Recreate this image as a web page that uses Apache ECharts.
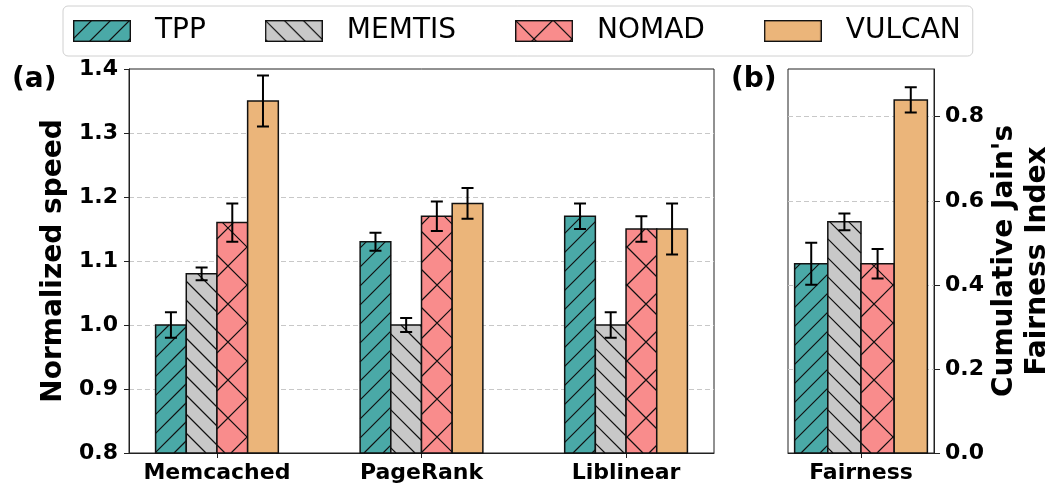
<!DOCTYPE html>
<html>
<head>
<meta charset="utf-8">
<script src="https://cdn.jsdelivr.net/npm/echarts@6/dist/echarts.min.js"></script>
<style>
  html, body { margin: 0; padding: 0; background: #fff; }
  #chart { width: 1047px; height: 487px; }
</style>
</head>
<body>
<div id="chart"></div>
<script>
// ---- data -----------------------------------------------------------------
const categories = ['Memcached', 'PageRank', 'Liblinear'];
const methods = ['TPP', 'MEMTIS', 'NOMAD', 'VULCAN'];

// normalized speed (mean) and error per workload
const tppSpeed = [1.00, 1.13, 1.17];
const memtisSpeed = [1.08, 1.00, 1.00];
const nomadSpeed = [1.16, 1.17, 1.15];
const vulcanSpeed = [1.35, 1.19, 1.15];
const tppSpeedErr = [0.02, 0.014, 0.02];
const memtisSpeedErr = [0.01, 0.011, 0.02];
const nomadSpeedErr = [0.03, 0.023, 0.02];
const vulcanSpeedErr = [0.04, 0.024, 0.04];

// cumulative Jain's fairness index, one value per method
const fairnessCategory = ['Fairness'];
const fairnessMean = [0.45, 0.55, 0.45, 0.84];
const fairnessErr = [0.05, 0.02, 0.035, 0.03];

const speedTicks = [0.8, 0.9, 1.0, 1.1, 1.2, 1.3, 1.4];
const fairnessTicks = [0.0, 0.2, 0.4, 0.6, 0.8];

// ---- styling ----------------------------------------------------------------
const FONT = 'DejaVu Sans';
const colors = ['#4aa9a7', '#c8c8c8', '#f98c8c', '#ebb57a'];
const hatches = ['ne', 'nw', 'x', null];
const HATCH_DENSE = 19;   // spacing for single-direction hatches
const HATCH_CROSS = 38;   // spacing for the cross hatch

// diagonal line segments clipped to a rectangle (pixel space)
function hatchSegments(x0, y0, w, h, dir, s) {
  const segs = [];
  const x1 = x0 + w, y1 = y0 + h;
  if (dir === 'ne') {            // lines x + y = c
    for (let c = Math.ceil((x0 + y0) / s) * s; c <= x1 + y1; c += s) {
      const xa = Math.max(x0, c - y1), xb = Math.min(x1, c - y0);
      if (xb - xa > 0.3) segs.push([xa, c - xa, xb, c - xb]);
    }
  } else {                       // lines x - y = c
    for (let c = Math.ceil((x0 - y1) / s) * s; c <= x1 - y0; c += s) {
      const xa = Math.max(x0, c + y0), xb = Math.min(x1, c + y1);
      if (xb - xa > 0.3) segs.push([xa, xa - c, xb, xb - c]);
    }
  }
  return segs;
}

function hatchPathData(x0, y0, w, h, kind) {
  if (!kind) return '';
  let segs;
  if (kind === 'x') {
    segs = hatchSegments(x0, y0, w, h, 'ne', HATCH_CROSS)
      .concat(hatchSegments(x0, y0, w, h, 'nw', HATCH_CROSS));
  } else {
    segs = hatchSegments(x0, y0, w, h, kind, HATCH_DENSE);
  }
  return segs.map(s => 'M' + s[0] + ' ' + s[1] + 'L' + s[2] + ' ' + s[3]).join('');
}

// legend swatch drawn on a small canvas
function swatch(color, kind) {
  const c = document.createElement('canvas');
  c.width = 58; c.height = 22;
  const ctx = c.getContext('2d');
  ctx.fillStyle = color;
  ctx.fillRect(0, 0, 58, 22);
  if (kind) {
    const segs = kind === 'x'
      ? hatchSegments(0, 0, 58, 22, 'ne', HATCH_CROSS).concat(hatchSegments(0, 0, 58, 22, 'nw', HATCH_CROSS))
      : hatchSegments(0, 0, 58, 22, kind, HATCH_DENSE);
    ctx.strokeStyle = '#111';
    ctx.lineWidth = 1.2;
    ctx.beginPath();
    segs.forEach(s => { ctx.moveTo(s[0], s[1]); ctx.lineTo(s[2], s[3]); });
    ctx.stroke();
  }
  ctx.strokeStyle = '#111';
  ctx.lineWidth = 1.4;
  ctx.strokeRect(0.7, 0.7, 56.6, 20.6);
  return 'image://' + c.toDataURL();
}

// bar + hatch + error bar for one method
function barRenderer(slot, barW, baseValue) {
  return function (params, api) {
    const cat = api.value(0), v = api.value(1), e = api.value(2);
    const xc = cat + (slot - 1.5) * barW;
    const pTL = api.coord([xc - barW / 2, v]);
    const pBR = api.coord([xc + barW / 2, baseValue]);
    const x0 = pTL[0], y0 = pTL[1];
    const w = pBR[0] - pTL[0], h = pBR[1] - pTL[1];
    const top = api.coord([xc, v + e]);
    const bot = api.coord([xc, v - e]);
    const cx = top[0], cap = 6;
    const children = [
      { type: 'rect', shape: { x: x0, y: y0, width: w, height: h },
        style: { fill: colors[slot], stroke: null } }
    ];
    const hp = hatchPathData(x0, y0, w, h, hatches[slot]);
    if (hp) {
      children.push({ type: 'path', shape: { pathData: hp },
        style: { fill: null, stroke: '#111', lineWidth: 1.2 } });
    }
    children.push({ type: 'rect', shape: { x: x0, y: y0, width: w, height: h },
      style: { fill: null, stroke: '#111', lineWidth: 1.5 } });
    children.push({ type: 'path',
      shape: { pathData: 'M' + cx + ' ' + top[1] + 'L' + cx + ' ' + bot[1] +
        'M' + (cx - cap) + ' ' + top[1] + 'L' + (cx + cap) + ' ' + top[1] +
        'M' + (cx - cap) + ' ' + bot[1] + 'L' + (cx + cap) + ' ' + bot[1] },
      style: { fill: null, stroke: '#000', lineWidth: 2 } });
    return { type: 'group', children: children };
  };
}

const speedMeans = [tppSpeed, memtisSpeed, nomadSpeed, vulcanSpeed];
const speedErrs = [tppSpeedErr, memtisSpeedErr, nomadSpeedErr, vulcanSpeedErr];

const series = [];
methods.forEach((m, k) => {
  series.push({
    name: m, type: 'custom', xAxisIndex: 0, yAxisIndex: 0,
    renderItem: barRenderer(k, 0.15, 0.8),
    encode: { x: 0, y: 1 },
    data: categories.map((c, i) => [i, speedMeans[k][i], speedErrs[k][i]])
  });
});
methods.forEach((m, k) => {
  series.push({
    name: m, type: 'custom', xAxisIndex: 1, yAxisIndex: 1,
    renderItem: barRenderer(k, 0.2, 0),
    encode: { x: 0, y: 1 },
    data: [[0, fairnessMean[k], fairnessErr[k]]]
  });
});

const tickLabel = { fontFamily: FONT, fontSize: 22, fontWeight: 'bold', color: '#000' };
const splitDash = { show: true, lineStyle: { color: '#c8c8c8', type: [5, 3], width: 1 } };
const frameLine = { show: true, onZero: false, lineStyle: { color: '#222' } };

const option = {
  animation: false,
  backgroundColor: '#fff',
  textStyle: { fontFamily: FONT },
  legend: {
    left: 63, top: 6,
    padding: [11, 12, 11, 10],
    itemWidth: 58, itemHeight: 22, itemGap: 59,
    selectedMode: false,
    borderColor: '#d0d0d0', borderWidth: 1, borderRadius: 5,
    backgroundColor: '#fff',
    textStyle: { fontFamily: FONT, fontSize: 28, color: '#000', padding: [0, 0, 0, 19] },
    data: methods.map((m, k) => ({ name: m, icon: swatch(colors[k], hatches[k]) }))
  },
  grid: [
    { left: 129, top: 69, width: 585, height: 384, show: true, borderColor: '#222', borderWidth: 1,
      containLabel: false, outerBoundsMode: 'none' },
    { left: 788, top: 69, width: 146, height: 384, show: true, borderColor: '#222', borderWidth: 1,
      containLabel: false, outerBoundsMode: 'none' }
  ],
  xAxis: [
    {
      type: 'value', gridIndex: 0, min: -0.43, max: 2.43,
      axisLine: frameLine,
      axisTick: { show: true, length: 5, customValues: categories.map((c, i) => i), lineStyle: { color: '#222' } },
      axisLabel: { ...tickLabel, margin: 9, customValues: categories.map((c, i) => i),
        formatter: v => categories[Math.round(v)] },
      splitLine: { show: false }
    },
    {
      type: 'value', gridIndex: 1, min: -0.44, max: 0.44,
      axisLine: frameLine,
      axisTick: { show: true, length: 5, customValues: [0], lineStyle: { color: '#222' } },
      axisLabel: { ...tickLabel, margin: 9, customValues: [0],
        formatter: () => fairnessCategory[0] },
      splitLine: { show: false }
    }
  ],
  yAxis: [
    {
      type: 'value', gridIndex: 0,
      min: speedTicks[0], max: speedTicks[speedTicks.length - 1], interval: 0.1,
      name: 'Normalized speed', nameLocation: 'middle', nameGap: 51,
      nameTextStyle: { fontFamily: FONT, fontSize: 28, fontWeight: 'bold', color: '#000' },
      axisLine: frameLine,
      axisTick: { show: true, length: 5, lineStyle: { color: '#222' } },
      axisLabel: { ...tickLabel, margin: 11, formatter: v => v.toFixed(1) },
      splitLine: { ...splitDash, showMinLine: false, showMaxLine: false }
    },
    {
      type: 'value', gridIndex: 1, position: 'right',
      min: 0, max: 0.9135,
      name: "Cumulative Jain's\nFairness Index", nameLocation: 'middle', nameGap: 53,
      nameTextStyle: { fontFamily: FONT, fontSize: 28, fontWeight: 'bold', color: '#000', lineHeight: 33 },
      axisLine: frameLine,
      axisTick: { show: true, length: 6, customValues: fairnessTicks, lineStyle: { color: '#222' } },
      axisLabel: { ...tickLabel, margin: 11, customValues: fairnessTicks, formatter: v => v.toFixed(1) },
      splitLine: { ...splitDash, showMinLine: false }
    }
  ],
  graphic: [
    { type: 'text', x: 12, y: 80,
      style: { text: '(a)', fontFamily: FONT, fontSize: 28, fontWeight: 'bold', fill: '#000', verticalAlign: 'middle' } },
    { type: 'text', x: 731, y: 80,
      style: { text: '(b)', fontFamily: FONT, fontSize: 28, fontWeight: 'bold', fill: '#000', verticalAlign: 'middle' } }
  ],
  series: series
};

const chart = echarts.init(document.getElementById('chart'), null, { renderer: 'canvas' });
chart.setOption(option);
</script>
</body>
</html>
